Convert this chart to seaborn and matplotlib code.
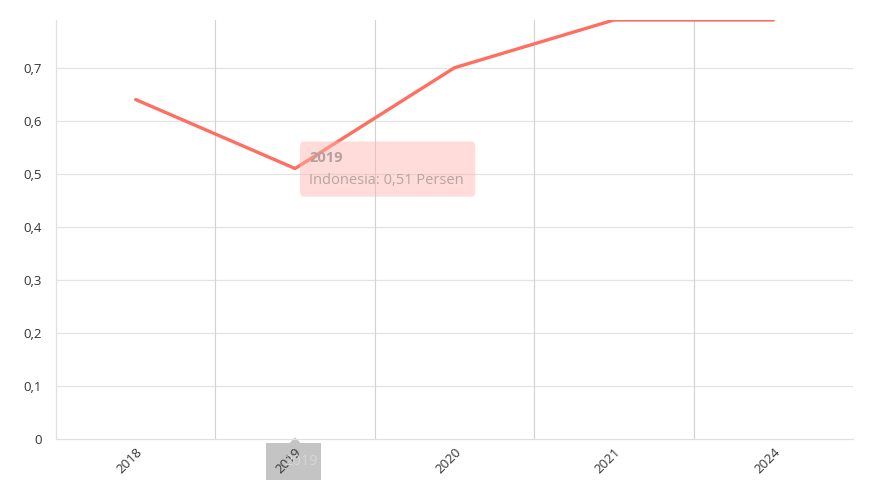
import matplotlib
matplotlib.use("Agg")
import matplotlib.pyplot as plt
import seaborn as sns
import pandas as pd
from matplotlib.patches import FancyBboxPatch, Rectangle, Polygon
from matplotlib.ticker import FixedLocator, FuncFormatter

# --- Data ---
years = ["2018", "2019", "2020", "2021", "2024"]
values = [0.64, 0.51, 0.70, 0.79, 0.79]
series_name = "Indonesia"
unit = "Persen"
hover_idx = 1

sns.set_theme(style="white")
plt.rcParams['font.family'] = ['Open Sans', 'DejaVu Sans']

df = pd.DataFrame({"pos": range(len(years)), "value": values})

fig = plt.figure(figsize=(8.73, 5), dpi=100)
ax = fig.add_axes([56 / 873, 61 / 500, 797 / 873, 419 / 500])

sns.lineplot(data=df, x="pos", y="value", ax=ax, color="#ff6f61",
             linewidth=2.4, zorder=3)

ax.set_xlim(-0.5, len(years) - 0.5)
ax.set_ylim(0, 0.79)
ax.set_xlabel("")
ax.set_ylabel("")

# y axis: comma decimals
ax.yaxis.set_major_locator(FixedLocator([i / 10 for i in range(8)]))
ax.yaxis.set_major_formatter(FuncFormatter(
    lambda v, p: "0" if v == 0 else f"{v:.1f}".replace(".", ",")))
ax.tick_params(axis="y", length=0, labelsize=9.5, labelcolor="#333333", pad=10)

# x axis: category labels rotated
ax.set_xticks(range(len(years)))
ax.set_xticklabels(years, rotation=45, ha="right", rotation_mode="anchor")
ax.tick_params(axis="x", length=0, labelsize=9.5, labelcolor="#333333", pad=5)

# grids: light horizontal, darker vertical category separators
for y in [i / 10 for i in range(1, 8)]:
    ax.axhline(y, color="#e3e3e3", linewidth=0.9, zorder=1)
for x in [i + 0.5 for i in range(len(years) - 1)]:
    ax.axvline(x, color="#d2d2d2", linewidth=0.8, zorder=1)

for side in ["top", "right"]:
    ax.spines[side].set_visible(False)
ax.spines["left"].set_color("#e0e0e0")
ax.spines["bottom"].set_color("#e0e0e0")
ax.spines["left"].set_linewidth(0.9)
ax.spines["bottom"].set_linewidth(0.9)

# --- Tooltip ---
box = FancyBboxPatch((1.03, 0.457), 1.1, 0.104, boxstyle="round,pad=0,rounding_size=0.02",
                     facecolor="#ffb3ab", edgecolor="none", alpha=0.45, zorder=4,
                     mutation_aspect=0.6)
ax.add_patch(box)
ax.text(1.09, 0.529, years[hover_idx], fontsize=10.5, fontweight="bold",
        color="#b4a09e", va="center", ha="left", zorder=5)
ax.text(1.09, 0.487, f"{series_name}: {values[hover_idx]:.2f}".replace(".", ",") + f" {unit}",
        fontsize=10.5, color="#b8a4a2", va="center", ha="left", zorder=5)

# x-axis crosshair label
trans = ax.get_xaxis_transform()
ax.add_patch(Polygon([(hover_idx - 0.035, -0.0098), (hover_idx + 0.035, -0.0098),
                      (hover_idx, 0.004)], closed=True, transform=trans,
                     facecolor="#c4c4c4", edgecolor="none", clip_on=False, zorder=0.5))
ax.add_patch(Rectangle((hover_idx - 0.18, -0.098), 0.345, 0.088, transform=trans,
                       facecolor="#c4c4c4", edgecolor="none", clip_on=False, zorder=0.5))
ax.text(hover_idx + 0.04, -0.054, years[hover_idx], transform=trans, fontsize=10.5,
        color="#d6d6d6", ha="center", va="center", zorder=0.6)

fig.savefig("out.png", dpi=100)
